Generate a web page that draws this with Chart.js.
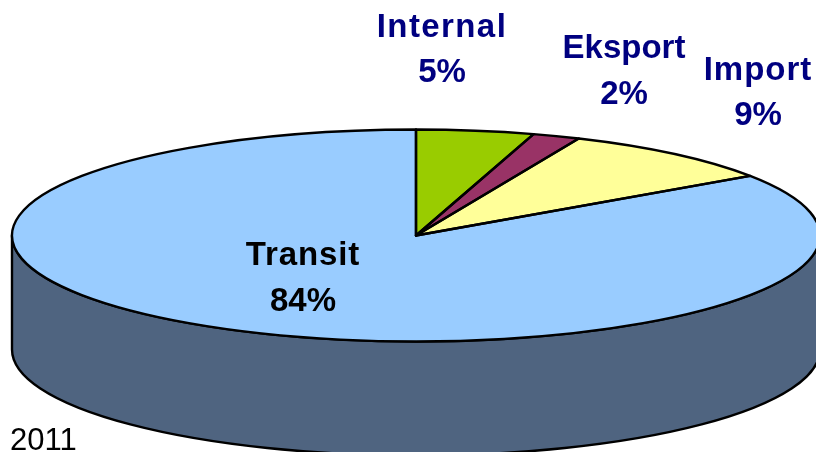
<!DOCTYPE html>
<html>
<head>
<meta charset="utf-8">
<title>2011</title>
<style>
  html, body { margin: 0; padding: 0; background: #fff; overflow: hidden; }
  canvas { display: block; }
</style>
<script src="https://cdn.jsdelivr.net/npm/chart.js@4/dist/chart.umd.js"></script>
</head>
<body>
<canvas id="pieChart" width="816" height="452"></canvas>
<script>
const categories = ['Internal', 'Eksport', 'Import', 'Transit'];
// slice sizes, the printed labels are rounded
const shares = [4.7, 1.9, 8.9, 84.5];
const printedShares = ['5%', '2%', '9%', '84%'];
const sliceColors = ['#99CC00', '#993366', '#FFFF99', '#99CCFF'];
const labelColors = ['#000080', '#000080', '#000080', '#000000'];
const yearLabel = '2011';

// label placement, [center x, first baseline, second baseline, letter spacing]
const labelSpots = [
  [442, 37, 82, 1.4],
  [624, 58, 104, 0],
  [758, 80, 125, 1],
  [303, 265, 311, 0.9]
];

const SQUASH = 106 / 404;
const DEPTH = 114;
const WALL_COLOR = '#4F6480';
const LINE_WIDTH = 2.4;

const squashed = (ctx, arc) => {
  ctx.translate(arc.x, arc.y);
  ctx.scale(1, SQUASH);
  ctx.translate(-arc.x, -arc.y);
};

const disc3d = {
  id: 'disc3d',
  beforeDatasetsDraw(chart) {
    const ctx = chart.ctx;
    const arc = chart.getDatasetMeta(0).data[0];
    const r = arc.outerRadius;
    const ry = r * SQUASH;

    // the wall under the front half
    ctx.save();
    ctx.beginPath();
    ctx.ellipse(arc.x, arc.y, r, ry, 0, Math.PI, 0, true);
    ctx.lineTo(arc.x + r, arc.y + DEPTH);
    ctx.ellipse(arc.x, arc.y + DEPTH, r, ry, 0, 0, Math.PI, false);
    ctx.closePath();
    ctx.fillStyle = WALL_COLOR;
    ctx.fill();
    ctx.strokeStyle = '#000';
    ctx.lineWidth = LINE_WIDTH;
    ctx.stroke();
    ctx.restore();

    ctx.save();
    squashed(ctx, arc);
  },
  afterDatasetsDraw(chart) {
    const ctx = chart.ctx;
    ctx.restore();

    // outlines go on after the transform so the line width stays even
    chart.getDatasetMeta(0).data.forEach(arc => {
      ctx.save();
      squashed(ctx, arc);
      ctx.beginPath();
      ctx.moveTo(arc.x, arc.y);
      ctx.arc(arc.x, arc.y, arc.outerRadius, arc.startAngle, arc.endAngle);
      ctx.closePath();
      ctx.restore();
      ctx.strokeStyle = '#000';
      ctx.lineWidth = LINE_WIDTH;
      ctx.lineJoin = 'round';
      ctx.stroke();
    });

    ctx.save();
    ctx.textAlign = 'center';
    ctx.font = 'bold 33px "Liberation Sans"';
    categories.forEach((name, i) => {
      const [x, y1, y2, spacing] = labelSpots[i];
      ctx.fillStyle = labelColors[i];
      ctx.letterSpacing = spacing + 'px';
      ctx.fillText(name, x, y1);
      ctx.letterSpacing = '0px';
      ctx.fillText(printedShares[i], x, y2);
    });
    ctx.textAlign = 'left';
    ctx.font = '31px "Liberation Sans"';
    ctx.fillStyle = '#000';
    ctx.fillText(yearLabel, 10, 450);
    ctx.restore();
  }
};

new Chart(document.getElementById('pieChart').getContext('2d'), {
  type: 'pie',
  data: {
    labels: categories,
    datasets: [{
      data: shares,
      backgroundColor: sliceColors,
      borderWidth: 0,
      clip: false
    }]
  },
  options: {
    responsive: false,
    animation: false,
    radius: 404,
    layout: { padding: { left: 16, top: 19, right: 0, bottom: 0 } },
    plugins: {
      legend: { display: false },
      title: { display: false },
      tooltip: { enabled: false }
    }
  },
  plugins: [disc3d]
});
</script>
</body>
</html>
